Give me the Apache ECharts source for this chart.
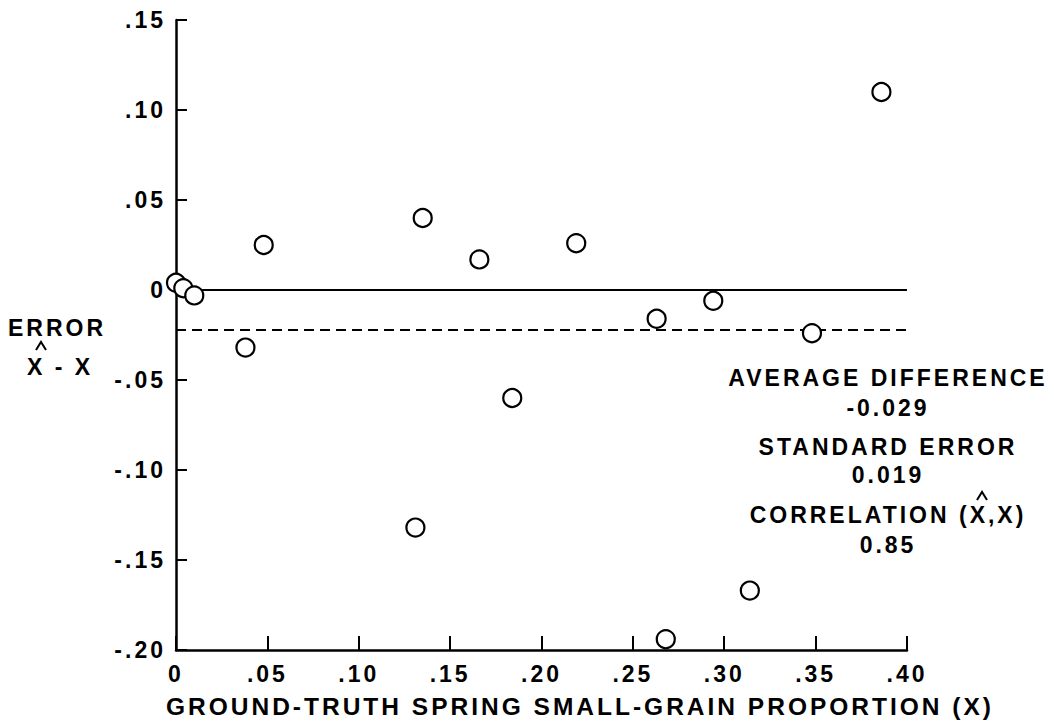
<!DOCTYPE html>
<html>
<head>
<meta charset="utf-8">
<script src="https://cdn.jsdelivr.net/npm/echarts@6/dist/echarts.min.js"></script>
<style>
html,body{margin:0;padding:0;background:#fff;}
#c{width:1054px;height:725px;}
#c text{letter-spacing:3px;}
</style>
</head>
<body>
<div id="c"></div>
<script>
// ---- data ----
const groundTruth = [0.000, 0.004, 0.010, 0.048, 0.038, 0.131, 0.135, 0.166, 0.219, 0.184, 0.263, 0.294, 0.348, 0.386, 0.314, 0.268];
const errorValues = [0.004, 0.001, -0.003, 0.025, -0.032, -0.132, 0.040, 0.017, 0.026, -0.060, -0.016, -0.006, -0.024, 0.110, -0.167, -0.194];
const zeroLine = 0;
const averageLine = -0.022;   // dashed line as drawn
const xTickLabels = ['0', '.05', '.10', '.15', '.20', '.25', '.30', '.35', '.40'];
const yTickLabels = ['-.20', '-.15', '-.10', '-.05', '0', '.05', '.10', '.15'];
const xAxisTitle = 'GROUND-TRUTH SPRING SMALL-GRAIN PROPORTION (X)';
const yAxisTitle = ['ERROR', 'X - X'];
const statLines = ['AVERAGE DIFFERENCE', '-0.029', 'STANDARD ERROR', '0.019', 'CORRELATION (X,X)', '0.85'];

// ---- layout ----
const FONT = '"Liberation Sans", Arial, Helvetica, sans-serif';
const X_MIN = 0, X_MAX = 0.40, X_STEP = 0.05;
const Y_MIN = -0.20, Y_MAX = 0.15, Y_STEP = 0.05;

function tickLabel(list, min, step) {
  return function (v) {
    const i = Math.round((v - min) / step);
    return list[i] !== undefined ? list[i] : '';
  };
}

function txt(text, x, y, size) {
  return {
    type: 'text', x: x, y: y, z: 10,
    style: {
      text: text, fill: '#000',
      font: 'bold ' + size + 'px ' + FONT,
      textAlign: 'center', textVerticalAlign: 'middle',
      align: 'center', verticalAlign: 'middle'
    }
  };
}

// circumflex (estimate mark) drawn over an X
function hat(cx, cy) {
  return {
    type: 'polyline', z: 10,
    shape: { points: [[cx - 5, cy + 4], [cx, cy - 4], [cx + 5, cy + 4]] },
    style: { stroke: '#000', lineWidth: 2, fill: null }
  };
}

const statX = 888;
const statY = [378, 408, 447, 475, 515, 545];
const graphics = [];
statLines.forEach((s, i) => graphics.push(txt(s, statX, statY[i], 23)));
graphics.push(txt(yAxisTitle[0], 57, 328, 23));
graphics.push(txt(yAxisTitle[1], 60, 367, 23));
graphics.push(txt(xAxisTitle, 580, 706, 24.5));
graphics.push(hat(41, 346));
graphics.push(hat(982, 496));

const chart = echarts.init(document.getElementById('c'), null, { renderer: 'svg' });
chart.setOption({
  animation: false,
  backgroundColor: '#fff',
  grid: { left: 176, right: 147, top: 20, bottom: 75, containLabel: false },
  xAxis: {
    type: 'value', min: X_MIN, max: X_MAX, interval: X_STEP,
    axisLine: { onZero: false, lineStyle: { color: '#000', width: 2.5 } },
    axisTick: { inside: true, length: 14, lineStyle: { color: '#000', width: 2 } },
    axisLabel: {
      formatter: tickLabel(xTickLabels, X_MIN, X_STEP),
      color: '#000', fontFamily: FONT, fontWeight: 'bold', fontSize: 23, margin: 12
    },
    splitLine: { show: false }
  },
  yAxis: {
    type: 'value', min: Y_MIN, max: Y_MAX, interval: Y_STEP,
    axisLine: { onZero: false, lineStyle: { color: '#000', width: 2.5 } },
    axisTick: { inside: true, length: 11, lineStyle: { color: '#000', width: 2 } },
    axisLabel: {
      formatter: tickLabel(yTickLabels, Y_MIN, Y_STEP),
      color: '#000', fontFamily: FONT, fontWeight: 'bold', fontSize: 23, margin: 10
    },
    splitLine: { show: false }
  },
  series: [
    {
      type: 'line', data: [], z: 1, silent: true,
      markLine: {
        symbol: ['none', 'none'], silent: true, label: { show: false },
        precision: 4,
        data: [
          { yAxis: zeroLine, lineStyle: { color: '#000', width: 2, type: 'solid' } },
          { yAxis: averageLine, lineStyle: { color: '#000', width: 2, type: [10, 6] } }
        ]
      }
    },
    {
      type: 'scatter', z: 5,
      symbol: 'circle', symbolSize: 18,
      itemStyle: { color: '#fff', borderColor: '#000', borderWidth: 2.2, opacity: 1 },
      data: groundTruth.map((x, i) => [x, errorValues[i]])
    }
  ],
  graphic: graphics
});
</script>
</body>
</html>
